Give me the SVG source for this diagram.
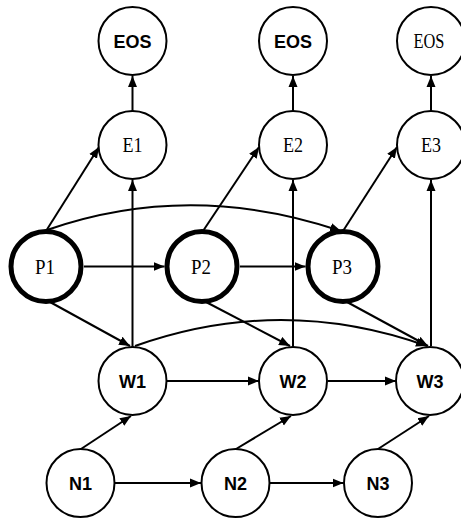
<svg xmlns="http://www.w3.org/2000/svg" width="461" height="518" viewBox="0 0 461 518">
<defs>
<style>
.n{fill:#fff;stroke:#000;stroke-width:2}
.p{fill:#fff;stroke:#000;stroke-width:5}
.sans{font-family:"Liberation Sans",Arial,sans-serif;font-weight:bold;font-size:18px;text-anchor:middle}
.serif{font-family:"Liberation Serif","Times New Roman",serif;font-size:21px;text-anchor:middle}
.c{fill:none;stroke:#000;stroke-width:2;marker-end:url(#a)}
</style>
<marker id="a" markerUnits="userSpaceOnUse" markerWidth="12" markerHeight="10" refX="11" refY="5" orient="auto">
<path d="M0,0.5 L11,5 L0,9.5 z" fill="#000"/>
</marker>
</defs>
<g id="connectors">
<line class="c" x1="132.5" y1="111" x2="132.5" y2="76"/>
<line class="c" x1="293" y1="111" x2="293" y2="76"/>
<line class="c" x1="431" y1="111" x2="431" y2="76"/>
<line class="c" x1="132.5" y1="347" x2="132.5" y2="180"/>
<line class="c" x1="293" y1="347" x2="293" y2="180"/>
<line class="c" x1="431" y1="346" x2="431" y2="180"/>
<line class="c" x1="46" y1="231" x2="99" y2="147"/>
<line class="c" x1="203" y1="231" x2="259" y2="147"/>
<line class="c" x1="343" y1="231" x2="397" y2="147"/>
<path class="c" d="M47,230 Q190,180 341,231"/>
<line class="c" x1="84" y1="266.5" x2="164.5" y2="266.5"/>
<line class="c" x1="240" y1="266.5" x2="305.5" y2="266.5"/>
<line class="c" x1="50" y1="302" x2="130" y2="346"/>
<line class="c" x1="206" y1="302" x2="290" y2="346"/>
<line class="c" x1="347" y1="302" x2="428" y2="346"/>
<path class="c" d="M135,346 Q281,294 427,346"/>
<line class="c" x1="167" y1="381" x2="259" y2="381"/>
<line class="c" x1="328" y1="381" x2="396" y2="381"/>
<line class="c" x1="81" y1="449" x2="131" y2="416"/>
<line class="c" x1="236" y1="449" x2="291" y2="416"/>
<line class="c" x1="378" y1="449" x2="429" y2="416"/>
<line class="c" x1="115" y1="483" x2="201" y2="483"/>
<line class="c" x1="270" y1="483" x2="343.5" y2="483"/>
</g>
<g id="EOS1"><circle class="n" cx="132.5" cy="41" r="34"/><text class="sans" x="132.5" y="47.5">EOS</text></g>
<g id="EOS2"><circle class="n" cx="293" cy="41" r="34"/><text class="sans" x="293" y="47.5">EOS</text></g>
<g id="EOS3"><circle class="n" cx="431" cy="41" r="34"/><text class="serif" x="429" y="48" textLength="31" lengthAdjust="spacingAndGlyphs">EOS</text></g>
<g id="E1"><circle class="n" cx="132.5" cy="145" r="34"/><text class="serif" x="132.5" y="152" textLength="20" lengthAdjust="spacingAndGlyphs">E1</text></g>
<g id="E2"><circle class="n" cx="293" cy="145" r="34"/><text class="serif" x="293" y="152" textLength="20" lengthAdjust="spacingAndGlyphs">E2</text></g>
<g id="E3"><circle class="n" cx="431" cy="145" r="34"/><text class="serif" x="431" y="152" textLength="20" lengthAdjust="spacingAndGlyphs">E3</text></g>
<g id="P1"><circle class="p" cx="46" cy="266.5" r="35"/><text class="serif" x="45" y="273.5" textLength="20" lengthAdjust="spacingAndGlyphs">P1</text></g>
<g id="P2"><circle class="p" cx="202" cy="266.5" r="35"/><text class="serif" x="201" y="273.5" textLength="20" lengthAdjust="spacingAndGlyphs">P2</text></g>
<g id="P3"><circle class="p" cx="343" cy="266.5" r="35"/><text class="serif" x="342" y="273.5" textLength="20" lengthAdjust="spacingAndGlyphs">P3</text></g>
<g id="W1"><circle class="n" cx="132.5" cy="381" r="34"/><text class="sans" x="132.5" y="387.5">W1</text></g>
<g id="W2"><circle class="n" cx="293" cy="381" r="34"/><text class="sans" x="293" y="387.5">W2</text></g>
<g id="W3"><circle class="n" cx="430" cy="381" r="34"/><text class="sans" x="430" y="387.5">W3</text></g>
<g id="N1"><circle class="n" cx="80.5" cy="483" r="34"/><text class="sans" x="80.5" y="489.5">N1</text></g>
<g id="N2"><circle class="n" cx="235.5" cy="483" r="34"/><text class="sans" x="235.5" y="489.5">N2</text></g>
<g id="N3"><circle class="n" cx="378" cy="483" r="34"/><text class="sans" x="378" y="489.5">N3</text></g>
</svg>
